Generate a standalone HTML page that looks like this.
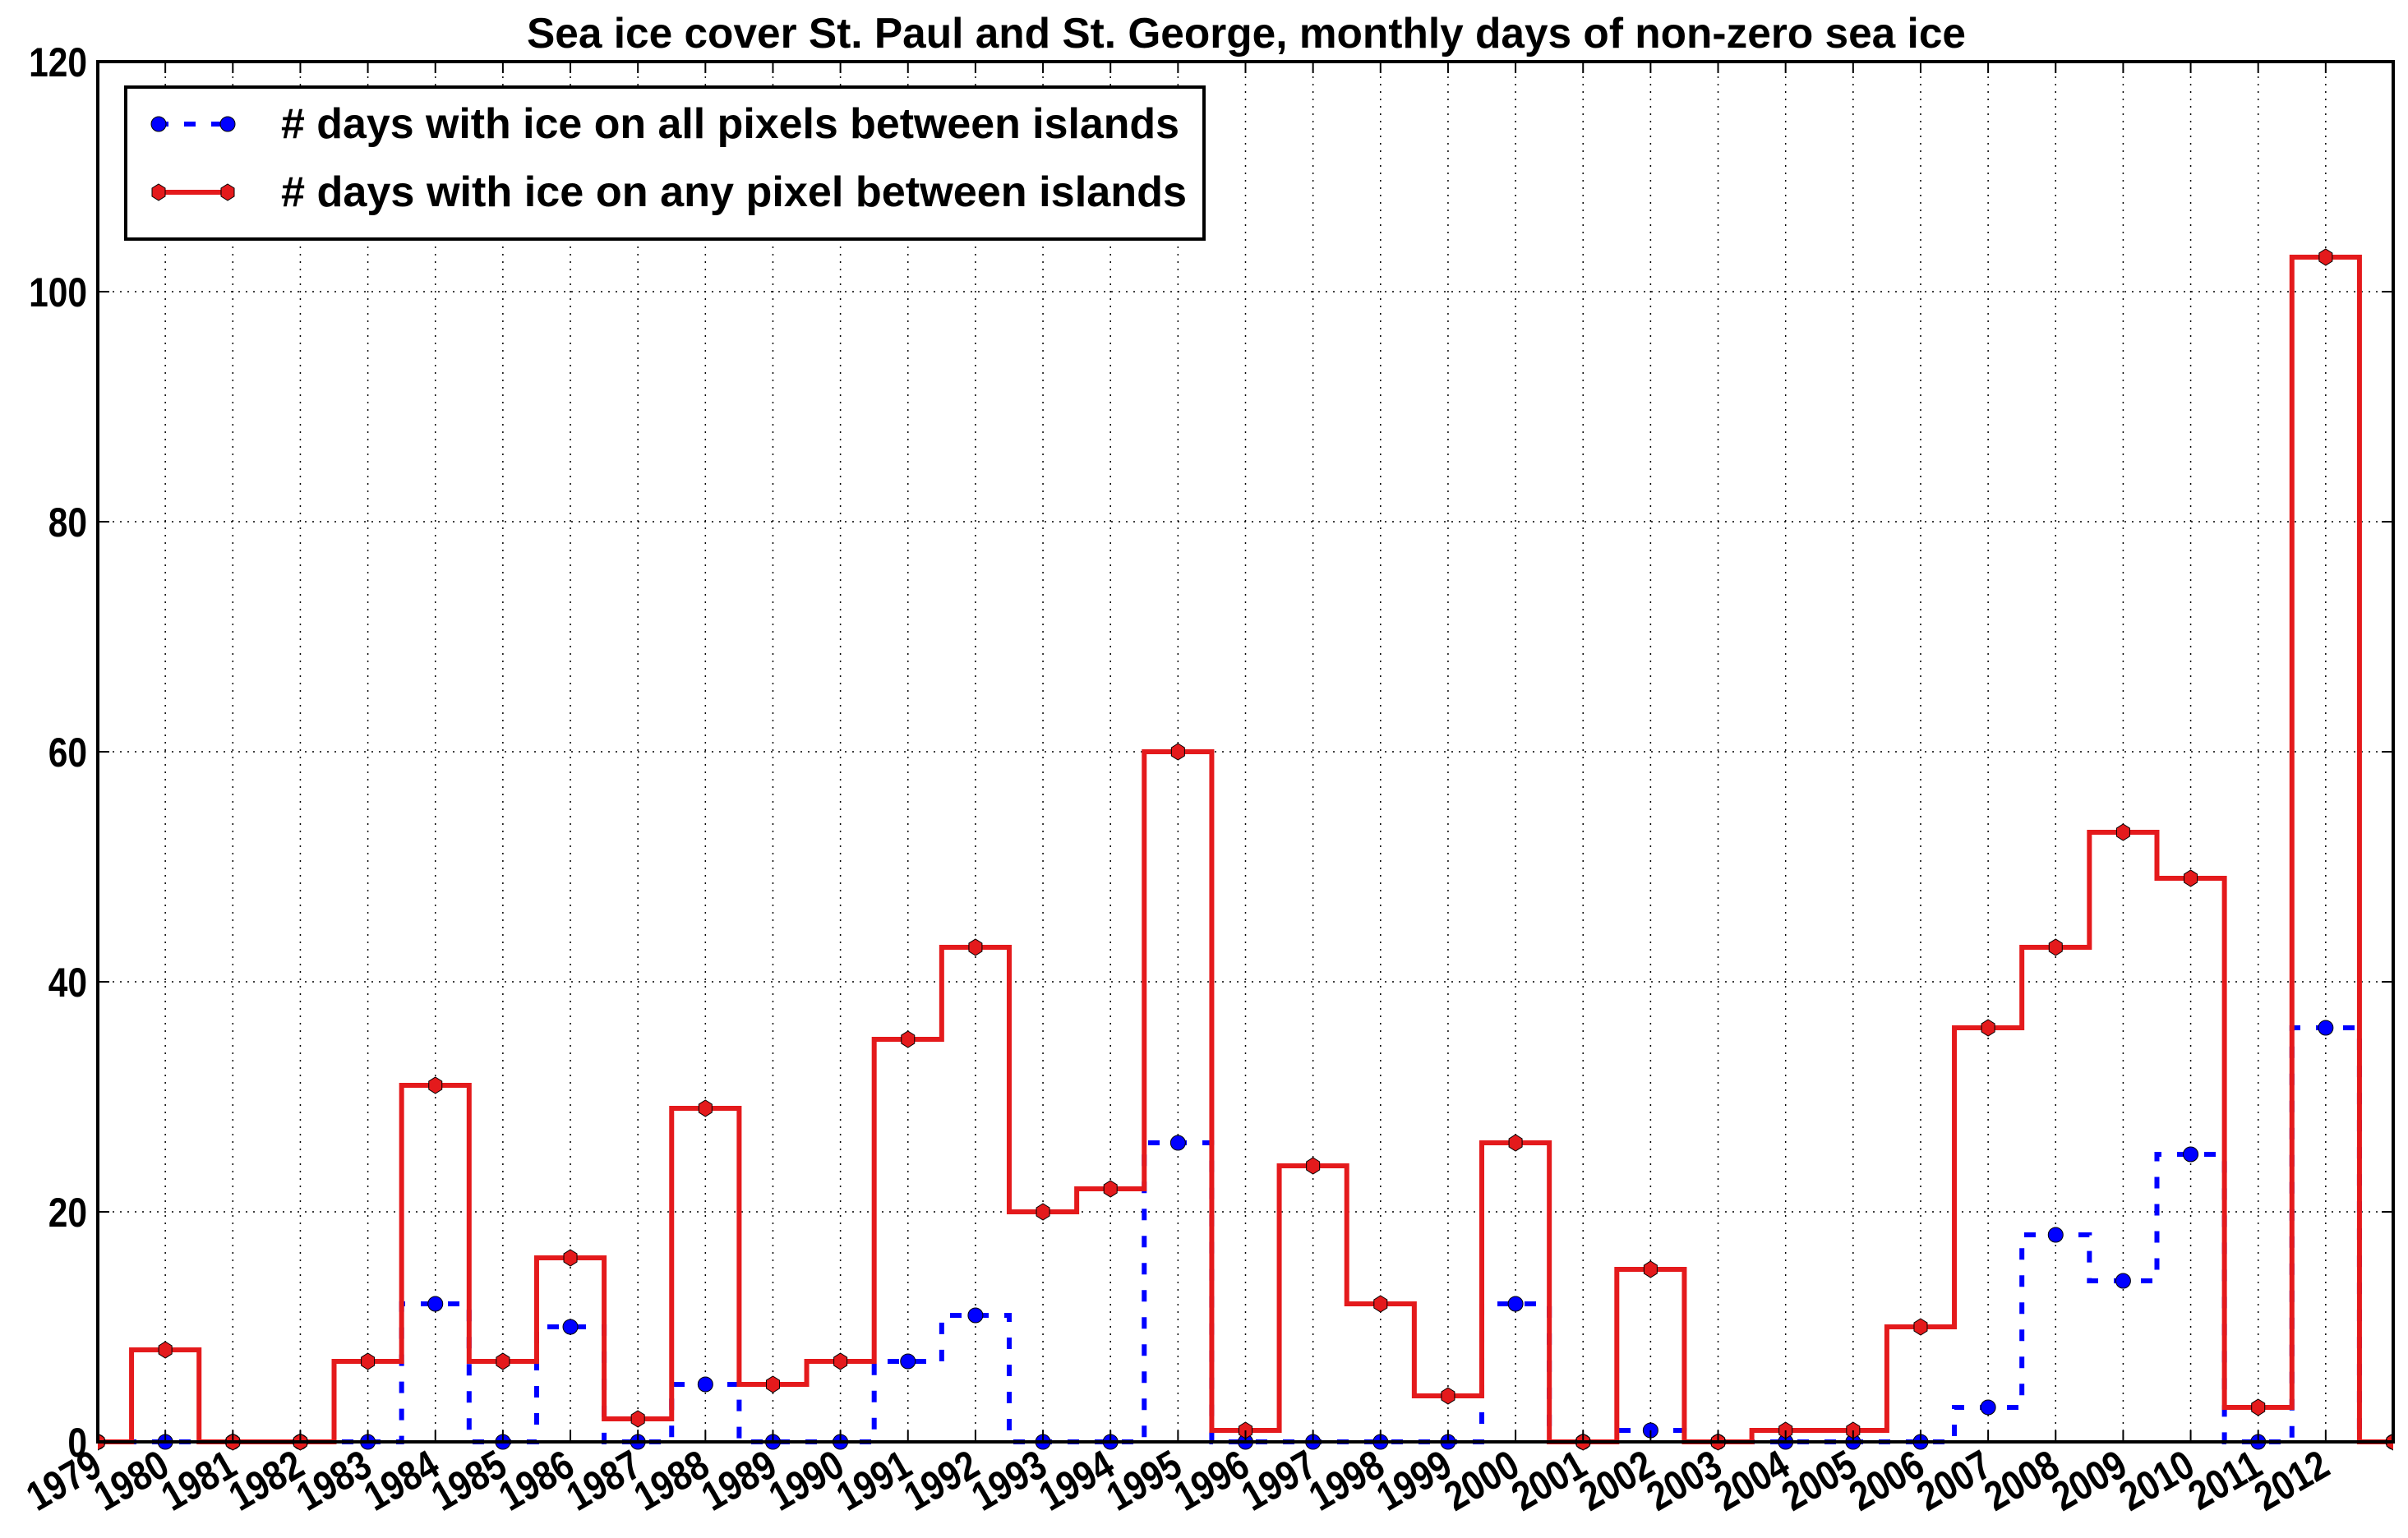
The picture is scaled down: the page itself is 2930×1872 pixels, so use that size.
<!DOCTYPE html>
<html><head><meta charset="utf-8"><style>
html,body{margin:0;padding:0;background:#fff;}
svg{display:block;font-family:"Liberation Sans",sans-serif;font-weight:bold;}
</style></head><body>
<svg id="chart" width="2930" height="1872" viewBox="0 0 2930 1872" xmlns="http://www.w3.org/2000/svg">
<rect width="2930" height="1872" fill="#fff"/>
<text x="641" y="58" font-size="52" textLength="1751" lengthAdjust="spacingAndGlyphs">Sea ice cover St. Paul and St. George, monthly days of non-zero sea ice</text>
<g id="grid"></g>
<g id="series"></g>
<rect x="119" y="75" width="2793" height="1680" fill="none" stroke="#000" stroke-width="4"/>
<g id="ticks"></g>
<g>
<rect x="153" y="106" width="1312" height="185" fill="#fff" stroke="#000" stroke-width="4"/>
<g>
<line x1="191" y1="151" x2="277" y2="151" stroke="#0000ff" stroke-width="6" stroke-dasharray="14,19"/>
<circle cx="193" cy="151" r="9" fill="#0000ff" stroke="#000" stroke-width="1"/>
<circle cx="277" cy="151" r="9" fill="#0000ff" stroke="#000" stroke-width="1"/>
<text x="342" y="168" font-size="52" textLength="1093" lengthAdjust="spacingAndGlyphs"># days with ice on all pixels between islands</text>
</g>
<g>
<line x1="193" y1="234" x2="277" y2="234" stroke="#e41a1c" stroke-width="6"/>
<polygon points="193,224 201,229 201,239 193,244 185,239 185,229" fill="#e41a1c" stroke="#000" stroke-width="1"/>
<polygon points="277,224 285,229 285,239 277,244 269,239 269,229" fill="#e41a1c" stroke="#000" stroke-width="1"/>
<text x="342" y="251" font-size="52" textLength="1102" lengthAdjust="spacingAndGlyphs"># days with ice on any pixel between islands</text>
</g>
</g>
</svg>
<script>
const years = [1979,1980,1981,1982,1983,1984,1985,1986,1987,1988,1989,1990,1991,1992,1993,1994,1995,1996,1997,1998,1999,2000,2001,2002,2003,2004,2005,2006,2007,2008,2009,2010,2011,2012,2013];
const anyPixel = [0,8,0,0,7,31,7,16,2,29,5,7,35,43,20,22,60,1,24,12,4,26,0,15,0,1,1,10,36,43,53,49,3,103,0];
const allPixels = [0,0,0,0,0,12,0,10,0,5,0,0,7,11,0,0,26,0,0,0,0,12,0,1,0,0,0,0,3,18,14,25,0,36,0];
const yTicks = [0,20,40,60,80,100,120];
const xTickLabels = ["1979","1980","1981","1982","1983","1984","1985","1986","1987","1988","1989","1990","1991","1992","1993","1994","1995","1996","1997","1998","1999","2000","2001","2002","2003","2004","2005","2006","2007","2008","2009","2010","2011","2012"];

const NS="http://www.w3.org/2000/svg";
const L=119,R=2912,T=75,B=1755,X0=1979,X1=2013,Y0=0,Y1=120;
const xs=v=>L+(v-X0)/(X1-X0)*(R-L);
const ys=v=>B-(v-Y0)/(Y1-Y0)*(B-T);
const OFF=0;
function mk(tag,attrs,parent){const e=document.createElementNS(NS,tag);for(const k in attrs)e.setAttribute(k,attrs[k]);parent.appendChild(e);return e;}
const grid=document.getElementById('grid'),ticks=document.getElementById('ticks'),ser=document.getElementById('series');

xTickLabels.forEach((lab,i)=>{
  const yr=X0+i; const x=xs(yr);
  const g=mk('line',{x1:x,y1:T,x2:x,y2:B,stroke:'#000','stroke-width':1.5,'stroke-dasharray':'2,7'},grid);
  
  
  const t1=mk('line',{x1:x,y1:B,x2:x,y2:B-14,stroke:'#000','stroke-width':2},ticks);
  
  
  const t2=mk('line',{x1:x,y1:T,x2:x,y2:T+14,stroke:'#000','stroke-width':2},ticks);
  
  
  const tx=mk('text',{x:0,y:0,'font-size':50,'text-anchor':'end',transform:`translate(${x+8},${B+38}) rotate(-30) scale(0.85,1)`},ticks);
  tx.textContent=lab;
  
  
});
yTicks.forEach(v=>{
  const y=ys(v);
  if(v>0&&v<120){
    const g=mk('line',{x1:L,y1:y,x2:R,y2:y,stroke:'#000','stroke-width':1.5,'stroke-dasharray':'2,7'},grid);
    
    
  }
  const a=mk('line',{x1:L,y1:y,x2:L+14,y2:y,stroke:'#000','stroke-width':2},ticks);
  
  
  const b=mk('line',{x1:R,y1:y,x2:R-14,y2:y,stroke:'#000','stroke-width':2},ticks);
  
  
  const tx=mk('text',{x:0,y:0,'font-size':50,'text-anchor':'end',transform:`translate(106,${y+18}) scale(0.85,1)`},ticks);
  tx.textContent=String(v);
  
  
});

function stepPath(vals){
  let d='';
  vals.forEach((v,i)=>{
    const yr=years[i]+OFF;
    const a=Math.max(X0,yr-0.5),b=Math.min(X1,yr+0.5);
    d+=(i===0?'M':'L')+xs(a)+','+ys(v)+' L'+xs(b)+','+ys(v)+' ';
  });
  return d;
}
const clip=mk('clipPath',{id:'pc'},ser); mk('rect',{x:L,y:T-20,width:R-L,height:B-T+40},clip);
const bl=mk('path',{d:stepPath(allPixels),fill:'none',stroke:'#0000ff','stroke-width':6,'stroke-dasharray':'14,19','clip-path':'url(#pc)'},ser);


const rl=mk('path',{d:stepPath(anyPixel),fill:'none',stroke:'#e41a1c','stroke-width':6,'stroke-linejoin':'miter','clip-path':'url(#pc)'},ser);


const mg=mk('g',{'clip-path':'url(#pc)'},ser);
allPixels.forEach((v,i)=>{
  const c=mk('circle',{cx:xs(years[i]+OFF),cy:ys(v),r:9,fill:'#0000ff',stroke:'#000','stroke-width':1},mg);
  
  
});
anyPixel.forEach((v,i)=>{
  const x=xs(years[i]+OFF),y=ys(v);
  const p=mk('polygon',{points:`${x},${y-10} ${x+8},${y-5} ${x+8},${y+5} ${x},${y+10} ${x-8},${y+5} ${x-8},${y-5}`,fill:'#e41a1c',stroke:'#000','stroke-width':1},mg);
  
  
});
</script>
</body></html>
